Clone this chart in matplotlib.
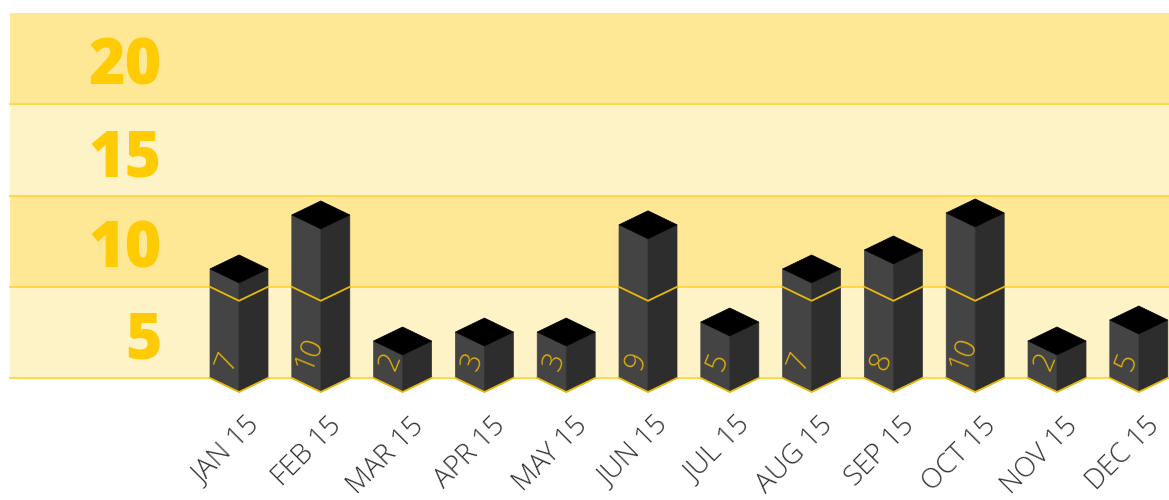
import matplotlib
matplotlib.use('Agg')
import matplotlib.pyplot as plt

months = ['JAN 15', 'FEB 15', 'MAR 15', 'APR 15', 'MAY 15', 'JUN 15',
          'JUL 15', 'AUG 15', 'SEP 15', 'OCT 15', 'NOV 15', 'DEC 15']
counts = [7, 10, 2, 3, 3, 9, 5, 7, 8, 10, 2, 5]
# drawn heights, they do not follow the printed counts
heights = [5.98, 8.94, 2.03, 2.52, 2.52, 8.40, 3.07, 5.98, 7.02, 9.05, 2.03, 3.18]
band_edges = [0, 5, 10, 15, 20]
band_labels = ['5', '10', '15', '20']

plt.rcParams['font.family'] = ['Open Sans', 'DejaVu Sans']

PX_X = 81.8   # pixels per category
PX_Y = 18.24  # pixels per value unit
HW = 29 / PX_X   # half bar width
DY = 14 / PX_Y   # isometric drop

fig = plt.figure(figsize=(11.69, 5), dpi=100)
ax = fig.add_axes([0, 0, 1, 1])
ax.set_xlim(-239 / PX_X, (1169 - 239) / PX_X)
ax.set_ylim(-122 / PX_Y, 378 / PX_Y)
ax.axis('off')

left = (10 - 239) / PX_X
right = ax.get_xlim()[1]
band_cols = ['#fef3c7', '#fee896', '#fef3c7', '#fee896']
line_col = '#ffd53f'

for i in range(4):
    ax.fill_between([left, right], band_edges[i], band_edges[i + 1],
                    color=band_cols[i], lw=0, zorder=1)
    ax.text(-77 / PX_X, (band_edges[i] + band_edges[i + 1]) / 2 - 0.5, band_labels[i],
            ha='right', va='center', fontsize=45, fontweight='heavy',
            color='#ffcb05', zorder=2)
for e in band_edges[:-1]:
    ax.plot([left, right], [e, e], color=line_col, lw=1.3, zorder=2)

for i, h in enumerate(heights):
    ax.fill([i - HW, i, i, i - HW], [0, -DY, h - DY, h], fc='#444444', ec='#444444', lw=0.5, zorder=3)
    ax.fill([i, i + HW, i + HW, i], [-DY, 0, h, h - DY], fc='#2d2d2d', ec='#2d2d2d', lw=0.5, zorder=3)
    ax.fill([i - HW, i, i + HW, i], [h, h - DY, h, h + DY], fc='#000000', ec='#000000', lw=0.5, zorder=4)
    # yellow edges round the foot of the bar and where it crosses 5
    ax.plot([i - HW, i, i + HW], [0, -DY, 0], color='#e8b90c', lw=1.3, zorder=5)
    if h > 5:
        ax.plot([i - HW, i, i + HW], [5, 5 - DY, 5], color='#e8b90c', lw=1.3, zorder=5)
    ax.text(i - 12 / PX_X, 0.2, str(counts[i]), rotation=68, ha='center', va='bottom',
            rotation_mode='default', fontsize=21, fontweight='light',
            color='#e0b00a', zorder=6)
    ax.text(i + 7 / PX_X, -34 / PX_Y, months[i], rotation=45, ha='right', va='top',
            rotation_mode='anchor', fontsize=20, fontweight='light',
            color='#333333', zorder=6)

fig.savefig('out.png', dpi=100)
